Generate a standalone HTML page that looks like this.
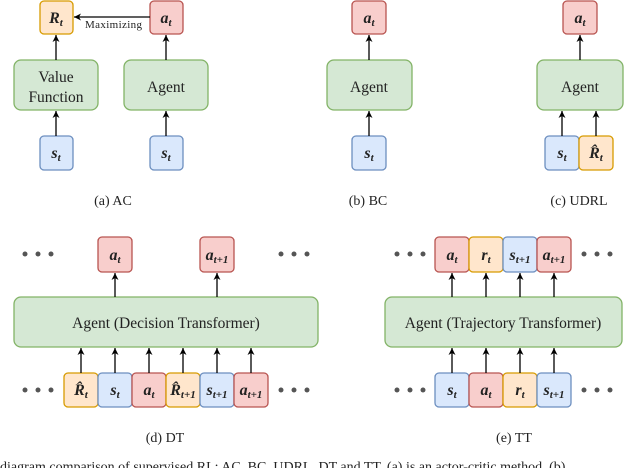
<!DOCTYPE html>
<html><head><meta charset="utf-8"><style>
html,body{margin:0;padding:0;background:#fff;}
svg{display:block;}
text{font-family:"Liberation Serif",serif;fill:#222;}
.m{font-style:italic;font-weight:bold;font-size:16px;}
.s{font-size:11px;}
.l{font-size:15.5px;}
.c{font-size:14px;}
</style></head><body>
<svg width="640" height="468" viewBox="0 0 640 468" xmlns="http://www.w3.org/2000/svg">
<defs>
<marker id="ar" markerWidth="8" markerHeight="8" refX="7" refY="4" orient="auto" markerUnits="userSpaceOnUse">
<path d="M0,0.5 L7,4 L0,7.5 L2,4 Z" fill="#000"/></marker>
</defs>
<g stroke-width="1.3">
<rect x="40" y="1" width="33" height="33" rx="4" fill="#ffe6cc" stroke="#d79b00"/>
<rect x="150" y="1" width="33" height="33" rx="4" fill="#f8cecc" stroke="#b85450"/>
<rect x="14" y="60" width="84" height="50" rx="7" fill="#d5e8d4" stroke="#82b366"/>
<rect x="124" y="60" width="84" height="50" rx="7" fill="#d5e8d4" stroke="#82b366"/>
<rect x="40" y="136" width="33" height="34" rx="4" fill="#dae8fc" stroke="#6c8ebf"/>
<rect x="150" y="136" width="33" height="34" rx="4" fill="#dae8fc" stroke="#6c8ebf"/>
<rect x="352" y="1" width="34" height="33" rx="4" fill="#f8cecc" stroke="#b85450"/>
<rect x="327" y="60" width="85" height="50" rx="7" fill="#d5e8d4" stroke="#82b366"/>
<rect x="352" y="136" width="34" height="34" rx="4" fill="#dae8fc" stroke="#6c8ebf"/>
<rect x="563" y="1" width="34" height="33" rx="4" fill="#f8cecc" stroke="#b85450"/>
<rect x="537" y="60" width="86" height="50" rx="7" fill="#d5e8d4" stroke="#82b366"/>
<rect x="545" y="136" width="34" height="34" rx="4" fill="#dae8fc" stroke="#6c8ebf"/>
<rect x="579" y="136" width="34" height="34" rx="4" fill="#ffe6cc" stroke="#d79b00"/>
<rect x="98" y="237" width="34" height="35" rx="4" fill="#f8cecc" stroke="#b85450"/>
<rect x="200" y="237" width="34" height="35" rx="4" fill="#f8cecc" stroke="#b85450"/>
<rect x="14" y="297" width="304" height="50" rx="7" fill="#d5e8d4" stroke="#82b366"/>
<rect x="64" y="373" width="34" height="34" rx="4" fill="#ffe6cc" stroke="#d79b00"/>
<rect x="98" y="373" width="34" height="34" rx="4" fill="#dae8fc" stroke="#6c8ebf"/>
<rect x="132" y="373" width="34" height="34" rx="4" fill="#f8cecc" stroke="#b85450"/>
<rect x="166" y="373" width="34" height="34" rx="4" fill="#ffe6cc" stroke="#d79b00"/>
<rect x="200" y="373" width="34" height="34" rx="4" fill="#dae8fc" stroke="#6c8ebf"/>
<rect x="234" y="373" width="34" height="34" rx="4" fill="#f8cecc" stroke="#b85450"/>
<rect x="435" y="237" width="34" height="35" rx="4" fill="#f8cecc" stroke="#b85450"/>
<rect x="469" y="237" width="34" height="35" rx="4" fill="#ffe6cc" stroke="#d79b00"/>
<rect x="503" y="237" width="34" height="35" rx="4" fill="#dae8fc" stroke="#6c8ebf"/>
<rect x="537" y="237" width="34" height="35" rx="4" fill="#f8cecc" stroke="#b85450"/>
<rect x="385" y="297" width="237" height="50" rx="7" fill="#d5e8d4" stroke="#82b366"/>
<rect x="435" y="373" width="34" height="34" rx="4" fill="#dae8fc" stroke="#6c8ebf"/>
<rect x="469" y="373" width="34" height="34" rx="4" fill="#f8cecc" stroke="#b85450"/>
<rect x="503" y="373" width="34" height="34" rx="4" fill="#ffe6cc" stroke="#d79b00"/>
<rect x="537" y="373" width="34" height="34" rx="4" fill="#dae8fc" stroke="#6c8ebf"/>
</g>
<g stroke="#000" stroke-width="1.3" marker-end="url(#ar)">
<line x1="56" y1="60" x2="56" y2="35"/><line x1="166" y1="60" x2="166" y2="35"/>
<line x1="56" y1="136" x2="56" y2="111"/><line x1="166" y1="136" x2="166" y2="111"/>
<line x1="150" y1="17" x2="74" y2="17"/>
<line x1="369" y1="60" x2="369" y2="35"/><line x1="369" y1="136" x2="369" y2="111"/>
<line x1="580" y1="60" x2="580" y2="35"/><line x1="562" y1="136" x2="562" y2="111"/><line x1="596" y1="136" x2="596" y2="111"/>
<line x1="115" y1="297" x2="115" y2="273"/><line x1="217" y1="297" x2="217" y2="273"/>
<line x1="81" y1="373" x2="81" y2="348"/><line x1="115" y1="373" x2="115" y2="348"/><line x1="149" y1="373" x2="149" y2="348"/>
<line x1="183" y1="373" x2="183" y2="348"/><line x1="217" y1="373" x2="217" y2="348"/><line x1="251" y1="373" x2="251" y2="348"/>
<line x1="452" y1="297" x2="452" y2="273"/><line x1="486" y1="297" x2="486" y2="273"/><line x1="520" y1="297" x2="520" y2="273"/><line x1="554" y1="297" x2="554" y2="273"/>
<line x1="452" y1="373" x2="452" y2="348"/><line x1="486" y1="373" x2="486" y2="348"/><line x1="520" y1="373" x2="520" y2="348"/><line x1="554" y1="373" x2="554" y2="348"/>
</g>
<g fill="#555">
<circle cx="25" cy="254" r="2.5"/><circle cx="38" cy="254" r="2.5"/><circle cx="51" cy="254" r="2.5"/>
<circle cx="281" cy="254" r="2.5"/><circle cx="294" cy="254" r="2.5"/><circle cx="307" cy="254" r="2.5"/>
<circle cx="25" cy="390" r="2.5"/><circle cx="38" cy="390" r="2.5"/><circle cx="51" cy="390" r="2.5"/>
<circle cx="281" cy="390" r="2.5"/><circle cx="294" cy="390" r="2.5"/><circle cx="307" cy="390" r="2.5"/>
<circle cx="397" cy="254" r="2.5"/><circle cx="410" cy="254" r="2.5"/><circle cx="423" cy="254" r="2.5"/>
<circle cx="584" cy="254" r="2.5"/><circle cx="597" cy="254" r="2.5"/><circle cx="610" cy="254" r="2.5"/>
<circle cx="397" cy="390" r="2.5"/><circle cx="410" cy="390" r="2.5"/><circle cx="423" cy="390" r="2.5"/>
<circle cx="584" cy="390" r="2.5"/><circle cx="597" cy="390" r="2.5"/><circle cx="610" cy="390" r="2.5"/>
</g>
<text x="85" y="28" font-size="11" textLength="57">Maximizing</text>
<g class="m" text-anchor="middle">
<text x="56" y="23">R<tspan class="s" dy="3">t</tspan></text>
<text x="166" y="23">a<tspan class="s" dy="3">t</tspan></text>
<text x="56" y="158">s<tspan class="s" dy="3">t</tspan></text>
<text x="166" y="158">s<tspan class="s" dy="3">t</tspan></text>
<text x="369" y="23">a<tspan class="s" dy="3">t</tspan></text>
<text x="369" y="158">s<tspan class="s" dy="3">t</tspan></text>
<text x="580" y="23">a<tspan class="s" dy="3">t</tspan></text>
<text x="562" y="158">s<tspan class="s" dy="3">t</tspan></text>
<text x="596" y="158">R̂<tspan class="s" dy="3">t</tspan></text>
<text x="115" y="260">a<tspan class="s" dy="3">t</tspan></text>
<text x="217" y="260">a<tspan class="s" dy="3">t+1</tspan></text>
<text x="81" y="395">R̂<tspan class="s" dy="3">t</tspan></text>
<text x="115" y="395">s<tspan class="s" dy="3">t</tspan></text>
<text x="149" y="395">a<tspan class="s" dy="3">t</tspan></text>
<text x="183" y="395">R̂<tspan class="s" dy="3">t+1</tspan></text>
<text x="217" y="395">s<tspan class="s" dy="3">t+1</tspan></text>
<text x="251" y="395">a<tspan class="s" dy="3">t+1</tspan></text>
<text x="452" y="260">a<tspan class="s" dy="3">t</tspan></text>
<text x="486" y="260">r<tspan class="s" dy="3">t</tspan></text>
<text x="520" y="260">s<tspan class="s" dy="3">t+1</tspan></text>
<text x="554" y="260">a<tspan class="s" dy="3">t+1</tspan></text>
<text x="452" y="395">s<tspan class="s" dy="3">t</tspan></text>
<text x="486" y="395">a<tspan class="s" dy="3">t</tspan></text>
<text x="520" y="395">r<tspan class="s" dy="3">t</tspan></text>
<text x="554" y="395">s<tspan class="s" dy="3">t+1</tspan></text>
</g>
<g class="l" text-anchor="middle">
<text x="56" y="82">Value</text><text x="56" y="102">Function</text>
<text x="166" y="92">Agent</text>
<text x="369" y="92">Agent</text>
<text x="580" y="92">Agent</text>
<text x="166" y="328">Agent (Decision Transformer)</text>
<text x="503" y="328">Agent (Trajectory Transformer)</text>
</g>
<g class="c" text-anchor="middle">
<text x="113" y="205">(a) AC</text>
<text x="368" y="205">(b) BC</text>
<text x="579" y="205">(c) UDRL</text>
<text x="165" y="442">(d) DT</text>
<text x="514" y="442">(e) TT</text>
</g>
<text x="0" y="471" font-size="14">diagram comparison of supervised RL: AC, BC, UDRL, DT and TT. (a) is an actor-critic method, (b)</text>
</svg>
</body></html>
